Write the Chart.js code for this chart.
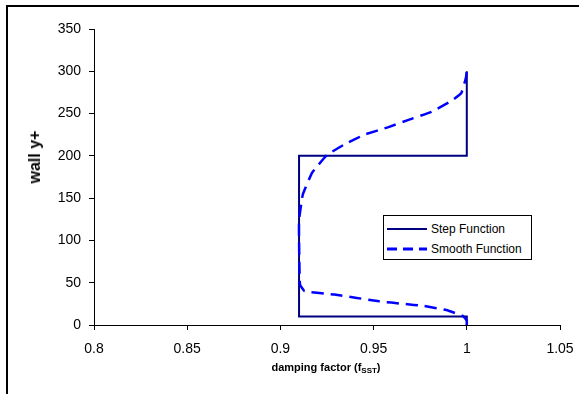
<!DOCTYPE html>
<html>
<head>
<meta charset="utf-8">
<script src="https://cdn.jsdelivr.net/npm/chart.js@4"></script>
<style>
  body { margin: 0; background: #fff; font-family: "Liberation Sans", Arial, sans-serif; }
  #wrap { position: relative; width: 579px; height: 394px; }
  #frame { position: absolute; left: 6px; top: 5px; right: 0; bottom: 0; border-top: 2px solid #000; border-left: 2px solid #000; }
  #chart { position: absolute; left: 0; top: 0; }
  .ytitle { position: absolute; left: 35px; top: 157px; transform: translate(-50%, -50%) rotate(-90deg); font-weight: bold; font-size: 16px; white-space: nowrap; }
  .xtitle { position: absolute; left: 326px; top: 368px; transform: translate(-50%, -50%); font-weight: bold; font-size: 11px; white-space: nowrap; }
  .xtitle sub { font-size: 8px; vertical-align: -2px; }
  #legend { position: absolute; left: 383px; top: 215px; width: 147px; height: 43px; border: 1px solid #000; background: #fff; font-size: 12px; }
  #legend .row { position: absolute; left: 3px; height: 14px; display: flex; align-items: center; }
  #legend svg { margin-right: 4px; }
</style>
</head>
<body>
<div id="wrap">
  <div id="frame"></div>
  <canvas id="chart" width="579" height="394"></canvas>
  <div class="ytitle">wall y+</div>
  <div class="xtitle">damping factor (f<sub>SST</sub>)</div>
  <div id="legend">
    <div class="row" style="top:6px"><svg width="40" height="4"><line x1="0" y1="2" x2="40" y2="2" stroke="#000080" stroke-width="2"/></svg>Step Function</div>
    <div class="row" style="top:26px"><svg width="40" height="4"><line x1="0" y1="2" x2="40" y2="2" stroke="#0000ff" stroke-width="3" stroke-dasharray="10,6"/></svg>Smooth Function</div>
  </div>
</div>
<script>
// data
const stepX = [1, 1, 0.91, 0.91, 1, 1];
const stepY = [0, 10, 10, 200, 200, 300];

const smoothX = [1, 1, 0.998, 0.989, 0.977, 0.966, 0.953, 0.929, 0.913, 0.9105, 0.91, 0.91, 0.912, 0.917, 0.925, 0.934, 0.945, 0.958, 0.968, 0.981, 0.991, 0.997, 0.9995, 1];
const smoothY = [0, 5, 10.6, 17.7, 22.5, 25, 28, 36, 40, 48, 100, 124, 154, 180, 201, 213, 225, 234, 242, 252, 264, 274, 292, 301];

const xTicks = [0.8, 0.85, 0.9, 0.95, 1, 1.05];
const yTicks = [0, 50, 100, 150, 200, 250, 300, 350];

const toPoints = (xs, ys) => xs.map((x, i) => ({ x: x, y: ys[i] }));

new Chart(document.getElementById('chart'), {
  type: 'scatter',
  data: {
    datasets: [
      {
        label: 'Step Function',
        data: toPoints(stepX, stepY),
        showLine: true,
        borderColor: '#000080',
        borderWidth: 2,
        pointRadius: 0,
        tension: 0,
        order: 1
      },
      {
        label: 'Smooth Function',
        data: toPoints(smoothX, smoothY),
        showLine: true,
        borderColor: '#0000ff',
        borderWidth: 2.5,
        borderDash: [12, 7],
        pointRadius: 0,
        tension: 0.1,
        order: 0
      }
    ]
  },
  options: {
    responsive: false,
    animation: false,
    layout: { padding: { left: 0, top: 29, right: 19, bottom: 0 } },
    plugins: { legend: { display: false }, tooltip: { enabled: false } },
    scales: {
      x: {
        type: 'linear',
        min: 0.8,
        max: 1.05,
        afterBuildTicks: s => { s.ticks = xTicks.map(v => ({ value: v })); },
        afterFit: s => { s.height = 69; s.paddingLeft = 0; s.paddingRight = 0; },
        grid: { drawOnChartArea: false, drawTicks: true, tickLength: 5, color: '#000' },
        border: { color: '#000', width: 1 },
        ticks: { color: '#000', font: { family: 'Liberation Sans', size: 14 }, padding: 11, maxRotation: 0,
                 callback: v => String(Math.round(v * 100) / 100) }
      },
      y: {
        type: 'linear',
        min: 0,
        max: 350,
        afterBuildTicks: s => { s.ticks = yTicks.map(v => ({ value: v })); },
        afterFit: s => { s.width = 94; s.paddingTop = 0; s.paddingBottom = 0; },
        grid: { drawOnChartArea: false, drawTicks: true, tickLength: 5, color: '#000' },
        border: { color: '#000', width: 1 },
        ticks: { color: '#000', font: { family: 'Liberation Sans', size: 14 }, padding: 8 }
      }
    }
  }
});
</script>
</body>
</html>
